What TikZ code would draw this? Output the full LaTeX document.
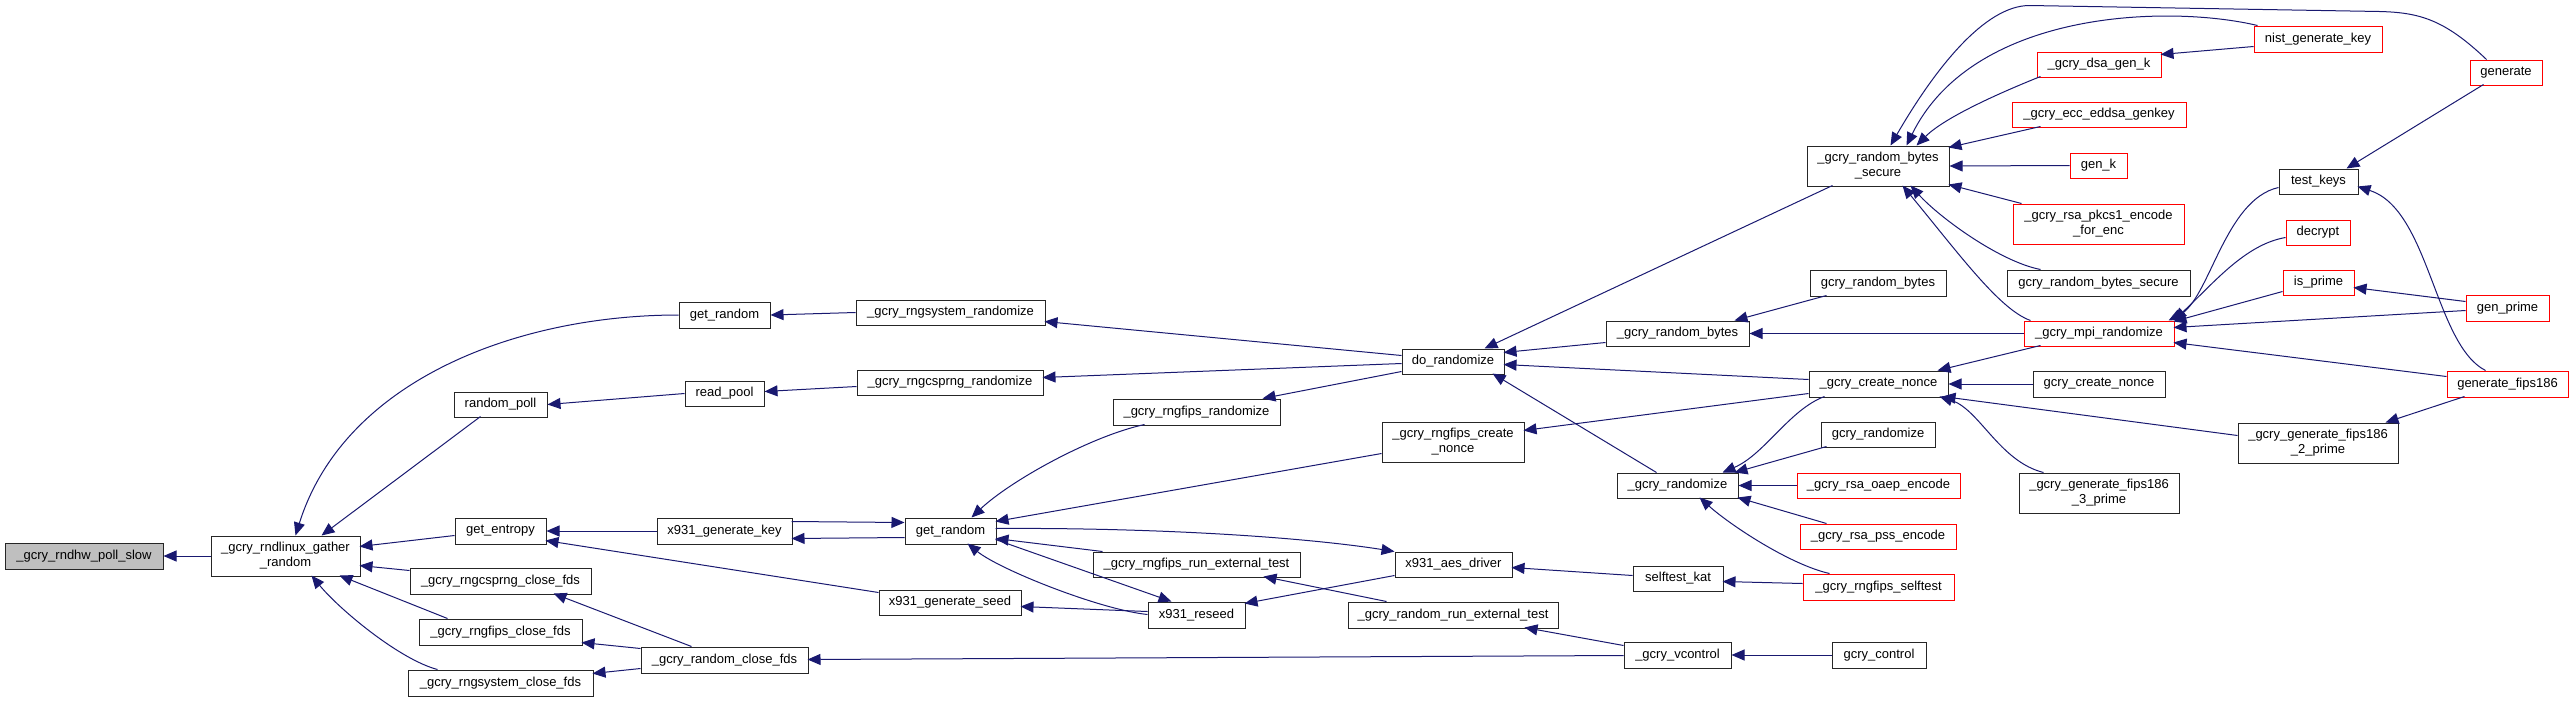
\documentclass[tikz,border=0pt]{standalone}
\usepackage{fontspec}
\setmainfont{Liberation Sans}
\usetikzlibrary{arrows.meta,calc}
\definecolor{mblue}{HTML}{191970}
\definecolor{ngray}{HTML}{BFBFBF}
\newcommand{\gnode}[7]{\node[#1, minimum width={#5-#3}, minimum height={#6-#4}] (#2) at ({(#3+#5)/2},{(#4+#6)/2}) {#7};}
\begin{document}
\begin{tikzpicture}[x=1pt,y=-1pt,
  nb/.style={draw=black!85, line width=1pt, fill=white, inner sep=0pt, align=center, font=\fontsize{13}{15}\selectfont},
  rb/.style={nb, draw=red},
  gb/.style={nb, fill=ngray},
  edge/.style={draw=mblue, line width=1pt, -{Triangle[length=13pt,width=11pt]}}]
\useasboundingbox (0,0) rectangle (2573,702);
% nodes
\gnode{gb}{slow}{5}{543}{163}{569}{\_gcry\_rndhw\_poll\_slow}
\gnode{nb}{gather}{211}{536}{360}{576}{\_gcry\_rndlinux\_gather\\\_random}
\gnode{nb}{getrnd1}{679}{302}{770}{328}{get\_random}
\gnode{nb}{rpoll}{454}{392}{547}{417}{random\_poll}
\gnode{nb}{gent}{455}{518}{546}{544}{get\_entropy}
\gnode{nb}{csclose}{410}{568}{591}{594}{\_gcry\_rngcsprng\_close\_fds}
\gnode{nb}{fpclose}{419}{619}{582}{645}{\_gcry\_rngfips\_close\_fds}
\gnode{nb}{syclose}{408}{670}{593}{696}{\_gcry\_rngsystem\_close\_fds}
\gnode{nb}{rpool}{685}{381}{764}{406}{read\_pool}
\gnode{nb}{xgenkey}{657}{518}{792}{544}{x931\_generate\_key}
\gnode{nb}{xgenseed}{879}{590}{1021}{615}{x931\_generate\_seed}
\gnode{nb}{rclose}{641}{647}{808}{673}{\_gcry\_random\_close\_fds}
\gnode{nb}{sysrand}{856}{300}{1045}{325}{\_gcry\_rngsystem\_randomize}
\gnode{nb}{csrand}{857}{370}{1043}{395}{\_gcry\_rngcsprng\_randomize}
\gnode{nb}{fprand}{1113}{399}{1280}{425}{\_gcry\_rngfips\_randomize}
\gnode{nb}{getrnd2}{905}{518}{996}{544}{get\_random}
\gnode{nb}{fpext}{1093}{552}{1300}{577}{\_gcry\_rngfips\_run\_external\_test}
\gnode{nb}{xreseed}{1148}{602}{1245}{628}{x931\_reseed}
\gnode{nb}{dorand}{1402}{349}{1504}{374}{do\_randomize}
\gnode{nb}{fpnonce}{1382}{422}{1524}{462}{\_gcry\_rngfips\_create\\\_nonce}
\gnode{nb}{xaes}{1395}{552}{1512}{577}{x931\_aes\_driver}
\gnode{nb}{rext}{1348}{602}{1558}{628}{\_gcry\_random\_run\_external\_test}
\gnode{nb}{rbytes}{1606}{321}{1749}{346}{\_gcry\_random\_bytes}
\gnode{nb}{grand}{1617}{473}{1738}{498}{\_gcry\_randomize}
\gnode{nb}{stkat}{1633}{566}{1723}{591}{selftest\_kat}
\gnode{nb}{vctl}{1624}{642}{1731}{668}{\_gcry\_vcontrol}
\gnode{nb}{rbsec}{1807}{146}{1949}{186}{\_gcry\_random\_bytes\\\_secure}
\gnode{nb}{grbytes}{1810}{270}{1946}{296}{gcry\_random\_bytes}
\gnode{nb}{cnonce}{1809}{371}{1948}{397}{\_gcry\_create\_nonce}
\gnode{nb}{gcrand}{1821}{422}{1935}{447}{gcry\_randomize}
\gnode{rb}{oaep}{1797}{473}{1960}{498}{\_gcry\_rsa\_oaep\_encode}
\gnode{rb}{pss}{1800}{524}{1956}{549}{\_gcry\_rsa\_pss\_encode}
\gnode{rb}{fpself}{1803}{574}{1954}{600}{\_gcry\_rngfips\_selftest}
\gnode{nb}{gctl}{1832}{642}{1926}{668}{gcry\_control}
\gnode{rb}{dsak}{2037}{52}{2161}{77}{\_gcry\_dsa\_gen\_k}
\gnode{rb}{eddsa}{2012}{102}{2186}{127}{\_gcry\_ecc\_eddsa\_genkey}
\gnode{rb}{genk}{2070}{153}{2127}{178}{gen\_k}
\gnode{rb}{pkcs}{2013}{204}{2184}{244}{\_gcry\_rsa\_pkcs1\_encode\\\_for\_enc}
\gnode{nb}{grbsec}{2007}{270}{2190}{296}{gcry\_random\_bytes\_secure}
\gnode{rb}{mpir}{2024}{321}{2174}{346}{\_gcry\_mpi\_randomize}
\gnode{nb}{gcnonce}{2033}{371}{2165}{397}{gcry\_create\_nonce}
\gnode{nb}{fips3}{2019}{473}{2179}{513}{\_gcry\_generate\_fips186\\\_3\_prime}
\gnode{rb}{nist}{2254}{26}{2382}{52}{nist\_generate\_key}
\gnode{nb}{tkeys}{2279}{169}{2358}{194}{test\_keys}
\gnode{rb}{decr}{2286}{220}{2350}{245}{decrypt}
\gnode{rb}{isprime}{2283}{270}{2354}{295}{is\_prime}
\gnode{nb}{fips2}{2238}{423}{2398}{463}{\_gcry\_generate\_fips186\\\_2\_prime}
\gnode{rb}{generate}{2470}{60}{2542}{85}{generate}
\gnode{rb}{genprime}{2466}{295}{2549}{321}{gen\_prime}
\gnode{rb}{gfips}{2447}{371}{2568}{397}{generate\_fips186}
% edges (arrow at the called function)
\draw[edge] (gather.west) -- (slow.east);
\draw[edge] (getrnd1.west) .. controls +(-160,0) and +(49,-156) .. ($(gather.north west)+(85,0)$);
\draw[edge] ($(rpoll.north west)+(27,25)$) -- ($(gather.north west)+(111,0)$);
\draw[edge] ($(gent.north west)+(0,18)$) -- ($(gather.north west)+(149,11)$);
\draw[edge] ($(csclose.north west)+(0,3)$) -- ($(gather.north west)+(149,30)$);
\draw[edge] ($(fpclose.north west)+(29,0)$) -- ($(gather.north west)+(129,40)$);
\draw[edge] ($(syclose.north west)+(30,0)$) .. controls +(-38,-10) and +(28,34) .. ($(gather.north west)+(101,40)$);
\draw[edge] (sysrand.west) -- (getrnd1.east);
\draw[edge] (rpool.west) -- (rpoll.east);
\draw[edge] ($(csrand.west)+(0,4)$) -- ($(rpool.east)+(0,-2)$);
\draw[edge] ($(dorand.north west)+(0,7)$) -- ($(sysrand.north west)+(189,22)$);
\draw[edge] ($(dorand.north west)+(0,15)$) -- ($(csrand.north west)+(186,8)$);
\draw[edge] ($(dorand.north west)+(0,23)$) -- ($(fprand.north west)+(150,0)$);
\draw[edge] (xgenkey.west) -- (gent.east);
\draw[edge] ($(xgenseed.north west)+(0,3)$) -- ($(gent.north west)+(91,23)$);
\draw[edge] ($(xgenkey.north west)+(135,4)$) -- ($(getrnd2.north west)+(0,5)$);
\draw[edge] ($(getrnd2.north west)+(0,20)$) -- ($(xgenkey.north west)+(135,21)$);
\draw[edge] ($(fprand.north west)+(32,26)$) .. controls +(-55,12) and +(38,-36) .. ($(getrnd2.north west)+(67,0)$);
\draw[edge] ($(fpnonce.north west)+(0,32)$) -- ($(getrnd2.north west)+(91,4)$);
\draw[edge] ($(fpext.north west)+(10,0)$) -- ($(getrnd2.north west)+(91,21)$);
\draw[edge] ($(xreseed.north west)+(0,13)$) .. controls +(-48,-5) and +(32,26) .. ($(getrnd2.north west)+(63,26)$);
\draw[edge] ($(getrnd2.north west)+(91,22)$) -- ($(xreseed.north west)+(24,0)$);
\draw[edge] ($(getrnd2.north west)+(91,11)$) .. controls +(154,-1) and +(-95,-15) .. (xaes.north west);
\draw[edge] ($(xreseed.north west)+(0,10)$) -- ($(xgenseed.north west)+(142,17)$);
\draw[edge] ($(xaes.north west)+(0,24)$) -- ($(xreseed.north west)+(97,2)$);
\draw[edge] ($(rclose.north west)+(51,0)$) -- ($(csclose.north west)+(144,26)$);
\draw[edge] ($(rclose.north west)+(0,2)$) -- ($(fpclose.north west)+(163,24)$);
\draw[edge] ($(rclose.north west)+(0,22)$) -- ($(syclose.north west)+(185,4)$);
\draw[edge] ($(vctl.north west)+(0,14)$) -- ($(rclose.north west)+(167,13)$);
\draw[edge] ($(rext.north west)+(39,0)$) -- ($(fpext.north west)+(171,25)$);
\draw[edge] ($(vctl.north west)+(0,4)$) -- ($(rext.north west)+(177,26)$);
\draw[edge] ($(stkat.north west)+(0,10)$) -- ($(xaes.north west)+(117,16)$);
\draw[edge] ($(fpself.north west)+(0,10)$) -- ($(stkat.north west)+(90,16)$);
\draw[edge] (gctl.west) -- (vctl.east);
\draw[edge] ($(rbsec.north west)+(26,40)$) -- ($(dorand.north west)+(83,0)$);
\draw[edge] ($(rbytes.north west)+(0,22)$) -- ($(dorand.north west)+(102,4)$);
\draw[edge] ($(cnonce.north west)+(0,9)$) -- ($(dorand.north west)+(102,16)$);
\draw[edge] ($(grand.north west)+(40,0)$) -- ($(dorand.north west)+(91,25)$);
\draw[edge] ($(cnonce.north west)+(0,23)$) -- ($(fpnonce.north west)+(142,9)$);
\draw[edge] ($(grbytes.north west)+(17,26)$) -- ($(rbytes.north west)+(129,0)$);
\draw[edge] (mpir.west) -- (rbytes.east);
\draw[edge] ($(nist.north west)+(4,0)$) .. controls +(-88,-21) and +(67,-136) .. ($(rbsec.north west)+(100,0)$);
\draw[edge] ($(generate.north west)+(17,0)$) .. controls +(-42,-40) and +(40,1) .. ++(-107,-48) -- ++(-350,-6) .. controls +(-45,0) and +(44,-76) .. ($(rbsec.north west)+(84,0)$);
\draw[edge] ($(dsak.north west)+(4,25)$) .. controls +(-30,12) and +(30,-30) .. ($(rbsec.north west)+(110,0)$);
\draw[edge] ($(eddsa.north west)+(29,25)$) -- ($(rbsec.north west)+(142,2)$);
\draw[edge] (genk.west) -- (rbsec.east);
\draw[edge] ($(pkcs.north west)+(9,0)$) -- ($(rbsec.north west)+(142,39)$);
\draw[edge] ($(grbsec.north west)+(34,0)$) .. controls +(-41,-8) and +(29,32) .. ($(rbsec.north west)+(104,40)$);
\draw[edge] ($(mpir.north west)+(7,0)$) .. controls +(-31,-11) and +(57,69) .. ($(rbsec.north west)+(96,40)$);
\draw[edge] ($(nist.north west)+(0,21)$) -- ($(dsak.north west)+(124,3)$);
\draw[edge] ($(generate.north west)+(14,25)$) -- ($(tkeys.north west)+(68,0)$);
\draw[edge] ($(tkeys.north west)+(0,19)$) .. controls +(-54,12) and +(41,-21) .. ($(mpir.north west)+(145,0)$);
\draw[edge] ($(decr.north west)+(0,18)$) .. controls +(-41,7) and +(39,-36) .. ($(mpir.north west)+(150,0)$);
\draw[edge] ($(isprime.north west)+(0,22)$) -- ($(mpir.north west)+(150,1)$);
\draw[edge] ($(genprime.north west)+(0,16)$) -- ($(mpir.north west)+(150,7)$);
\draw[edge] ($(gfips.north west)+(0,6)$) -- ($(mpir.north west)+(150,22)$);
\draw[edge] ($(genprime.north west)+(0,7)$) -- ($(isprime.north west)+(71,18)$);
\draw[edge] ($(gfips.north west)+(39,0)$) .. controls +(-51,-26) and +(72,23) .. ($(tkeys.north west)+(79,18)$);
\draw[edge] ($(gfips.north west)+(18,26)$) -- ($(fips2.north west)+(148,0)$);
\draw[edge] ($(mpir.north west)+(17,25)$) -- ($(cnonce.north west)+(129,0)$);
\draw[edge] (gcnonce.west) -- (cnonce.east);
\draw[edge] ($(fips2.north west)+(0,13)$) -- ($(cnonce.north west)+(134,26)$);
\draw[edge] ($(fips3.north west)+(25,0)$) .. controls +(-44,-11) and +(40,13) .. ($(cnonce.north west)+(131,26)$);
\draw[edge] ($(cnonce.north west)+(16,26)$) .. controls +(-35,13) and +(42,-18) .. ($(grand.north west)+(106,0)$);
\draw[edge] ($(gcrand.north west)+(6,25)$) -- ($(grand.north west)+(118,0)$);
\draw[edge] (oaep.west) -- (grand.east);
\draw[edge] ($(pss.north west)+(27,0)$) -- ($(grand.north west)+(121,25)$);
\draw[edge] ($(fpself.north west)+(27,0)$) .. controls +(-40,-9) and +(30,27) .. ($(grand.north west)+(83,25)$);
\end{tikzpicture}
\end{document}
